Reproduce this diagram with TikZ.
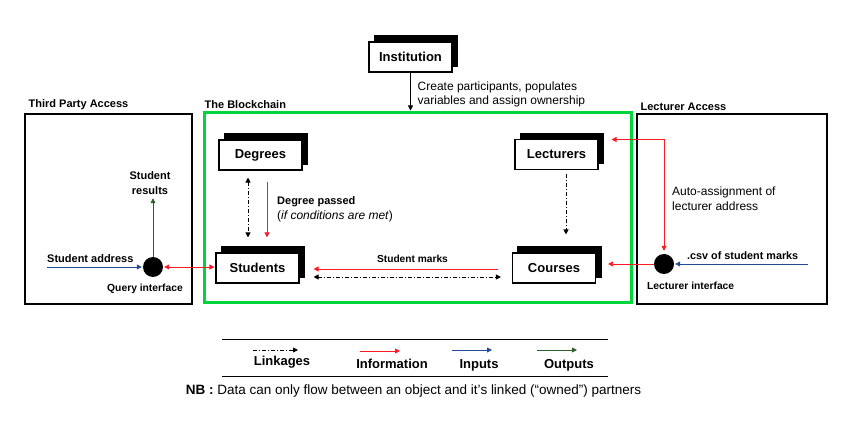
\documentclass[tikz,border=0pt]{standalone}
\usepackage{fontspec}
\setmainfont{Liberation Sans}
\usepackage{xcolor}
\definecolor{chainGreen}{RGB}{0, 214, 60}
\definecolor{infoRed}{RGB}{255, 25, 35}
\definecolor{inBlue}{RGB}{35, 75, 150}
\definecolor{outGreen}{RGB}{45, 95, 45}
\usetikzlibrary{arrows.meta, positioning, calc, shadows}
\tikzset{
  >={Triangle[length=5pt, width=5pt]},
  objbox/.style={draw, line width=1.1pt, fill=white, minimum width=83pt, minimum height=30pt, inner sep=0pt,
    font=\fontsize{13}{15}\selectfont\bfseries,
    general shadow={fill=black, draw=black, shadow xshift=5.5pt, shadow yshift=6pt}},
  area/.style={draw, line width=1.1pt, inner sep=0pt},
  hdr/.style={anchor=south west, inner sep=1pt, font=\fontsize{11}{13}\selectfont\bfseries},
  iface/.style={circle, fill=black, minimum size=20pt, inner sep=0pt},
  lbl/.style={inner sep=1pt, font=\fontsize{11}{15}\selectfont\bfseries},
  txt/.style={inner sep=1pt, align=left, font=\fontsize{12}{14}\selectfont},
  link/.style={line width=0.8pt, dash pattern=on 4pt off 2pt on 1pt off 2pt},
  info/.style={line width=0.8pt, infoRed},
  inp/.style={line width=0.8pt, inBlue},
  outp/.style={line width=0.8pt, outGreen},
}

\begin{document}
\begin{tikzpicture}[x=1pt, y=-1pt]
    \useasboundingbox (0,0) rectangle (857,430);

    % regions
    \node[area, minimum width=167pt, minimum height=190pt] (tpa) at (108.5,209) {};
    \node[area, minimum width=190pt, minimum height=190pt] (lca) at (732,209) {};
    \node[draw=chainGreen, line width=3pt, minimum width=427pt, minimum height=190pt, inner sep=0pt] (chain) at (417.5,208) {};
    \node[hdr] at ([xshift=3pt, yshift=2pt]tpa.north west) {Third Party Access};
    \node[hdr] at ([xshift=1pt, yshift=2pt]chain.north west) {The Blockchain};
    \node[hdr] at ([xshift=3pt, yshift=2pt]lca.north west) {Lecturer Access};

    % objects
    \node[objbox] (inst) at (410.5,57) {Institution};
    \node[objbox] (deg) at (260.5,155) {Degrees};
    \node[objbox] (stu) at (257.5,268) {Students};
    \node[objbox] (lect) at (556.5,154.5) {Lecturers};
    \node[objbox] (crs) at (554,268) {Courses};

    % interfaces
    \node[iface] (q) at (153,267) {};
    \node[iface] (li) at (664,264) {};
    \node[lbl, font=\fontsize{10.3}{12}\selectfont\bfseries, anchor=base] at (145,292) {Query interface};
    \node[lbl, font=\fontsize{10.3}{12}\selectfont\bfseries, anchor=base west] at (646,290) {Lecturer interface};

    \draw[->, line width=0.8pt, shorten >=1pt] (inst) -- (inst |- chain.north);
    \node[txt, anchor=west] at ($(inst.south)+(6,22)$) {Create participants, populates\\variables and assign ownership};

    % inside the chain
    \draw[link, <->, shorten <=7pt, shorten >=15pt] ([xshift=-12.5pt]deg.south) -- ([xshift=-12.5pt]deg.south |- stu.north);
    \draw[info, ->, shorten <=11pt, shorten >=15pt] ([xshift=6.5pt]deg.south) -- ([xshift=6.5pt]deg.south |- stu.north);
    \node[txt, anchor=west, font=\fontsize{12}{15}\selectfont] at (276,209.5) {\textbf{\fontsize{11}{15}\selectfont Degree passed}\\(\textit{if conditions are met})};
    \draw[link, ->, shorten <=4pt, shorten >=18pt] ([xshift=9.5pt]lect.south) -- ([xshift=9.5pt]lect.south |- crs.north);
    \draw[info, ->, shorten <=14pt, shorten >=14pt] ([yshift=-1pt]crs.west) -- ([yshift=-1pt]crs.west -| stu.east);
    \draw[link, <->, shorten <=14pt, shorten >=11pt] ([yshift=-9pt]stu.east) -- ([yshift=-9pt]stu.east -| crs.west);
    \node[lbl, font=\fontsize{10.2}{12}\selectfont\bfseries] at (412.5,259) {Student marks};

    % third party side
    \coordinate (sa) at (47,267);
    \draw[inp, ->, shorten >=1pt] (sa) -- (q);
    \node[lbl, anchor=base west] at (46,263) {Student address};
    \node[lbl, align=center] (res) at (150,183.5) {Student\\results};
    \draw[outp, ->, shorten >=2pt] (q) -- (q |- res.south);
    \draw[info, <->, shorten <=1pt, shorten >=1pt] (q.east) -- (q.east -| stu.west);

    % lecturer side
    \coordinate (csv) at (808,264);
    \draw[inp, ->, shorten >=1pt] (csv) -- (li);
    \node[lbl, anchor=base west, font=\fontsize{10.8}{12}\selectfont\bfseries] at (686,260) {.csv of student marks};
    \draw[info, ->, shorten >=12pt] (li) -- (li -| crs.east);
    \draw[info, <->, shorten <=13pt, shorten >=3pt] ([yshift=15pt]lect.east) -| (li.north);
    \node[txt, anchor=west, font=\fontsize{12}{15}\selectfont] at (671,198.5) {Auto-assignment of\\lecturer address};

    % legend
    \draw[line width=0.9pt] (222,339) -- (608,339);
    \draw[line width=0.9pt] (222,376) -- (608,376);
    \node[lbl, font=\fontsize{13}{15}\selectfont\bfseries] (lk) at (282,362) {Linkages};
    \node[lbl, font=\fontsize{13}{15}\selectfont\bfseries] (inf) at (392,364) {Information};
    \node[lbl, font=\fontsize{13}{15}\selectfont\bfseries] (inl) at (479,365) {Inputs};
    \node[lbl, font=\fontsize{13}{15}\selectfont\bfseries] (otl) at (569,365) {Outputs};
    \draw[link, ->] ($(lk)+(-29,-12)$) -- ++(45,0);
    \draw[info, ->] ($(inf)+(-32,-13)$) -- ++(40,0);
    \draw[inp, ->] ($(inl)+(-27,-15)$) -- ++(40,0);
    \draw[outp, ->] ($(otl)+(-32,-15)$) -- ++(40,0);
    \node[txt, font=\fontsize{13.5}{15}\selectfont] at (413.5,391) {\textbf{NB :} Data can only flow between an object and it’s linked (“owned”) partners};
\end{tikzpicture}
\end{document}
